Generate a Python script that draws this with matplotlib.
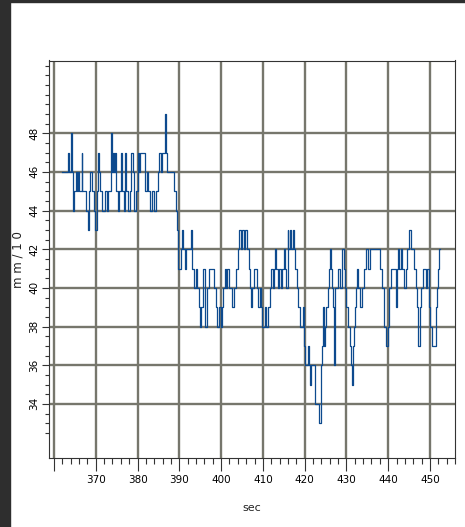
import matplotlib
matplotlib.use("Agg")
import matplotlib.pyplot as plt
from matplotlib.patches import Rectangle
from matplotlib.ticker import MultipleLocator, FixedLocator

# step change points: time (sec) and level (mm/10)
t_change = [
    362.0, 363.4, 363.6, 364.0, 364.3, 364.6, 364.9, 365.2, 365.4, 365.8,
    366.0, 366.6, 366.8, 367.2, 367.6, 368.1, 368.3, 368.7, 369.0, 369.5,
    369.9, 370.2, 370.6, 370.8, 371.1, 371.4, 372.2, 372.6, 373.0, 373.6,
    373.8, 374.1, 374.4, 374.7, 374.9, 375.2, 375.6, 376.0, 376.3, 376.7,
    377.0, 377.3, 377.7, 378.1, 378.5, 378.8, 379.2, 379.6, 380.0, 380.4,
    380.6, 381.8, 382.2, 382.6, 382.9, 383.5, 384.0, 384.4, 384.8, 385.2,
    385.6, 385.9, 386.5, 386.7, 387.0, 388.8, 389.2, 389.4, 389.6, 389.8,
    390.4, 390.7, 391.0, 391.3, 391.7, 392.8, 393.1, 393.5, 393.9, 394.3,
    394.6, 394.9, 395.3, 395.6, 396.2, 396.6, 397.0, 398.3, 398.7, 399.0,
    399.6, 399.9, 400.2, 400.5, 400.9, 401.2, 401.5, 402.0, 402.3, 402.7,
    403.2, 403.6, 404.0, 404.3, 404.8, 405.0, 405.6, 405.8, 406.3, 406.6,
    406.9, 407.2, 407.5, 407.9, 408.5, 408.8, 409.2, 409.6, 409.9, 410.4,
    410.7, 411.3, 411.7, 412.0, 412.4, 412.7, 413.0, 413.2, 413.6, 413.9,
    414.3, 414.6, 415.0, 415.2, 415.5, 415.9, 416.1, 416.5, 416.8, 417.1,
    417.4, 417.8, 418.2, 418.5, 418.9, 419.5, 419.8, 420.2, 420.7, 421.0,
    421.2, 421.6, 422.5, 423.4, 423.8, 424.0, 424.2, 424.4, 424.6, 424.9,
    425.2, 425.5, 425.8, 426.0, 426.2, 426.5, 426.8, 427.1, 427.3, 427.9,
    428.5, 428.9, 429.4, 429.7, 430.0, 430.4, 430.8, 431.1, 431.3, 431.6,
    431.9, 432.0, 432.3, 432.5, 432.8, 433.2, 433.8, 434.2, 434.8, 435.2,
    435.6, 438.0, 438.5, 439.0, 439.4, 439.9, 440.3, 440.7, 441.8, 442.1,
    442.4, 442.7, 443.0, 443.4, 443.8, 444.3, 444.6, 445.1, 445.4, 446.3,
    446.6, 446.9, 447.1, 447.7, 447.9, 448.3, 449.0, 449.3, 449.7, 450.0,
    450.5, 451.4, 451.6, 451.9, 452.1, 452.4,
]
level = [
    46, 47, 46, 48, 46, 44, 45, 46, 45, 46,
    45, 47, 45, 45, 44, 43, 45, 46, 45, 44,
    43, 45, 47, 46, 45, 44, 45, 44, 45, 48,
    46, 47, 46, 47, 45, 44, 45, 47, 45, 44,
    47, 45, 44, 45, 47, 46, 44, 45, 47, 46,
    47, 45, 46, 45, 44, 45, 44, 45, 46, 47,
    46, 47, 49, 47, 46, 45, 44, 43, 42, 41,
    42, 43, 42, 41, 42, 43, 41, 40, 41, 40,
    39, 38, 39, 41, 38, 40, 41, 40, 39, 38,
    39, 38, 39, 40, 41, 40, 41, 40, 40, 39,
    40, 41, 42, 43, 42, 43, 42, 43, 42, 41,
    40, 39, 40, 41, 40, 39, 40, 39, 38, 39,
    38, 39, 40, 41, 40, 41, 42, 41, 40, 41,
    40, 41, 42, 41, 40, 43, 42, 43, 42, 43,
    42, 41, 40, 39, 38, 39, 37, 36, 37, 36,
    35, 36, 34, 33, 35, 36, 37, 39, 37, 38,
    39, 40, 41, 42, 41, 40, 39, 36, 40, 41,
    40, 42, 41, 40, 39, 38, 37, 36, 35, 37,
    38, 39, 40, 41, 40, 39, 40, 41, 42, 41,
    42, 41, 40, 38, 37, 38, 40, 41, 39, 41,
    42, 41, 42, 41, 40, 41, 42, 43, 42, 41,
    40, 39, 37, 39, 40, 41, 40, 41, 39, 38,
    37, 39, 40, 41, 42, 42,
]
x_major = [360, 370, 380, 390, 400, 410, 420, 430, 440, 450]
x_labels = ["", "370", "380", "390", "400", "410", "420", "430", "440", "450"]
y_major = [34, 36, 38, 40, 42, 44, 46, 48]

W, H = 465, 527
fig = plt.figure(figsize=(W / 100, H / 100), dpi=100)
fig.patch.set_facecolor("white")
fig.patches.append(Rectangle((0, 0), 10 / W, 1, transform=fig.transFigure,
                             color="#2e2e2e", zorder=0))
fig.patches.append(Rectangle((0, 1 - 2 / H), 1, 2 / H, transform=fig.transFigure,
                             color="#2e2e2e", zorder=0))

left, right = 49 / W, 455 / W
bottom, top = 1 - 458 / H, 1 - 60.5 / H
ax = fig.add_axes([left, bottom, right - left, top - bottom])

ax.step(t_change, level, where="post", color="#0d4a8e", lw=0.9, zorder=3)

ax.set_xlim(358.8, 456)
ax.set_ylim(31.2, 51.76)

ax.xaxis.set_major_locator(FixedLocator(x_major))
ax.set_xticklabels(x_labels)
ax.xaxis.set_minor_locator(MultipleLocator(2))
ax.yaxis.set_major_locator(FixedLocator(y_major))
ax.yaxis.set_minor_locator(FixedLocator([v / 2 for v in range(65, 104)]))

ax.grid(True, which="major", color="#76766c", lw=1.7, zorder=1)
ax.set_axisbelow(True)

for s in ax.spines.values():
    s.set_color("#333333")
    s.set_linewidth(0.8)

ax.tick_params(axis="x", which="major", direction="out", length=9, width=0.8,
               color="#333333", labelsize=7.5, pad=3)
ax.tick_params(axis="x", which="minor", direction="out", length=4.5, width=0.8,
               color="#333333")
ax.tick_params(axis="y", which="major", direction="out", length=5, width=0.8,
               color="#333333", labelsize=7.5, pad=2, labelrotation=90)
ax.tick_params(axis="y", which="minor", direction="out", length=3, width=0.8,
               color="#333333")
for lab in ax.get_yticklabels():
    lab.set_va("center")

ax.set_xlabel("sec", fontsize=8, color="#222222")
ax.xaxis.set_label_coords(0.5, -0.112)
ax.set_ylabel("m m / 1 0", fontsize=8.5, color="#222222")
ax.yaxis.set_label_coords(-0.06, 0.5)

fig.savefig("out.png", dpi=100)
